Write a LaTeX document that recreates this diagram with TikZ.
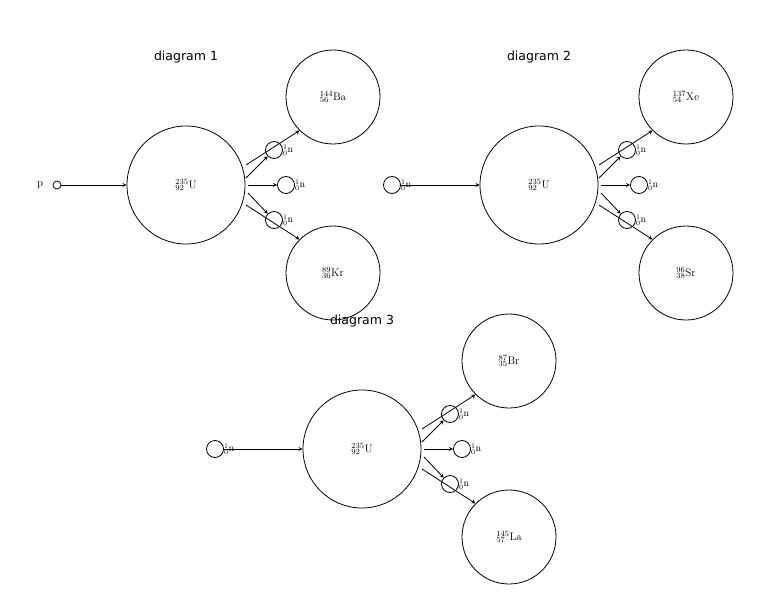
\documentclass[tikz,border=0pt]{standalone}
\usepackage{fontspec}
\newfontfamily\titlefont{DejaVu Sans}
\begin{document}
\begin{tikzpicture}[x=1pt,y=-1pt,
  big/.style={circle,draw,thick,minimum size=118pt,inner sep=0pt},
  mid/.style={circle,draw,thick,minimum size=94pt,inner sep=0pt},
  sm/.style={circle,draw,thick,minimum size=17pt,inner sep=0pt},
  lab/.style={font=\fontsize{11}{12}\selectfont,inner sep=0pt},
  nlab/.style={font=\fontsize{10}{11}\selectfont,inner sep=0pt,anchor=west},
  ttl/.style={font=\titlefont\fontsize{12.5}{14}\selectfont},
  arr/.style={->,thick,>=stealth}]
\useasboundingbox (0,0) rectangle (784,607);
\newcommand{\nuc}[3]{${}^{#1}_{#2}\mathrm{#3}$}
\newcommand{\fission}[9]{%
 % #1 x, #2 y, #3 prefix, #4 top mass, #5 top Z, #6 top sym, #7 bot mass, #8 bot Z, #9 bot sym
 \begin{scope}[shift={(#1,#2)}]
  \node[big] (#3U) at (0,0) {};
  \node[lab] at (0,0) {\nuc{235}{92}{U}};
  \node[mid] (#3T) at (147,-88) {};
  \node[lab] at (147,-88) {\nuc{#4}{#5}{#6}};
  \node[mid] (#3B) at (147,88) {};
  \node[lab] at (147,88) {\nuc{#7}{#8}{#9}};
  \node[sm] (#3n1) at (88,-35) {};
  \node[sm] (#3n2) at (100,0) {};
  \node[sm] (#3n3) at (88,35) {};
  \node[nlab] at (#3n1.east) {\nuc{1}{0}{n}};
  \node[nlab] at (#3n2.east) {\nuc{1}{0}{n}};
  \node[nlab] at (#3n3.east) {\nuc{1}{0}{n}};
  \coordinate (#3a1) at (60,-20); \coordinate (#3a2) at (60,-7);
  \coordinate (#3a3) at (62,0); \coordinate (#3a4) at (62,8);
  \coordinate (#3a5) at (60,20);
  \draw[arr] (#3a1) -- (#3T.south west);
  \draw[arr] (#3a2) -- (#3n1.south west);
  \draw[arr] (#3a3) -- (#3n2.west);
  \draw[arr] (#3a4) -- (#3n3.north west);
  \draw[arr] (#3a5) -- (#3B.north west);
 \end{scope}}
\fission{186}{185}{a}{144}{56}{Ba}{89}{36}{Kr}
\fission{539}{185}{b}{137}{54}{Xe}{96}{38}{Sr}
\fission{362}{449}{c}{87}{35}{Br}{145}{57}{La}
\node[ttl] (t1) at (186,57) {diagram 1};
\node[ttl] (t2) at (539,57) {diagram 2};
\node[ttl] (t3) at (362,321) {diagram 3};
% incoming
\node[lab] (p) at (40,185) {p};
\node[circle,draw,thick,minimum size=8pt,inner sep=0pt] (pc) at (57,185) {};
\draw[arr] (pc) -- (aU);
\node[sm] (in2) at (392,185) {};
\node[nlab] at (in2.east) {\nuc{1}{0}{n}};
\draw[arr] (in2) -- (bU);
\node[sm] (in3) at (215,449) {};
\node[nlab] at (in3.east) {\nuc{1}{0}{n}};
\draw[arr] (in3) -- (cU);
\end{tikzpicture}
\end{document}
